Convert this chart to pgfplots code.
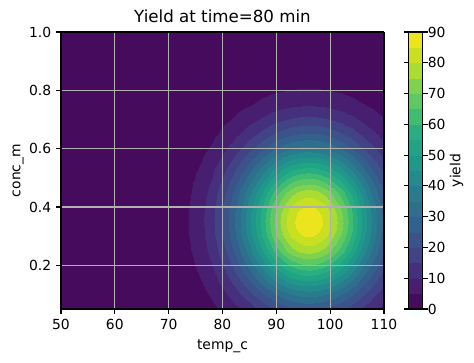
\documentclass[border=0pt]{standalone}
\usepackage{fontspec}
\setmainfont{DejaVu Sans}
\usepackage{pgfplots}
\pgfplotsset{compat=1.18}
\definecolor{gridc}{HTML}{B0B0B0}
\begin{document}
\begin{tikzpicture}
\begin{axis}[
  at={(0,0)}, anchor=south west,
  scale only axis,
  width=232.56pt, height=199.44pt,
  view={0}{90},
  xmin=50, xmax=110, ymin=0.05, ymax=1.0,
  xtick={50,60,...,110},
  ytick={0.2,0.4,0.6,0.8,1.0},
  yticklabel style={/pgf/number format/.cd, fixed, fixed zerofill, precision=1},
  /pgf/number format/assume math mode=true,
  tick label style={font=\fontsize{10}{12}\selectfont},
  label style={font=\fontsize{10}{12}\selectfont},
  title style={font=\fontsize{12}{14}\selectfont, yshift=-3pt},
  title={Yield at time=80 min},
  xlabel={temp\_c},
  xlabel style={yshift=-1pt},
  ylabel={conc\_m},
  ylabel style={yshift=-3pt},
  grid=major,
  grid style={color=gridc, line width=0.8pt},
  axis on top,
  axis line style={line width=0.8pt},
  tick style={line width=0.8pt, black},
  major tick length=3.5pt,
  tick align=outside,
  xtick pos=left, ytick pos=left,
  colormap={mplv}{
    rgb255(0pt)=(70,11,93);
    rgb255(1pt)=(72,30,112);
    rgb255(2pt)=(70,48,125);
    rgb255(3pt)=(66,66,134);
    rgb255(4pt)=(59,82,139);
    rgb255(5pt)=(52,96,141);
    rgb255(6pt)=(46,111,142);
    rgb255(7pt)=(40,124,142);
    rgb255(8pt)=(35,138,141);
    rgb255(9pt)=(31,151,138);
    rgb255(10pt)=(33,164,134);
    rgb255(11pt)=(40,174,128);
    rgb255(12pt)=(65,189,114);
    rgb255(13pt)=(94,201,98);
    rgb255(14pt)=(127,210,78);
    rgb255(15pt)=(170,220,50);
    rgb255(16pt)=(200,224,33);
    rgb255(17pt)=(236,229,30);
    rgb255(18pt)=(236,229,30)
  },
  colormap access=piecewise constant,
  point meta min=0, point meta max=90,
  colorbar,
  colorbar style={
    at={(parent axis.north east)}, anchor=north west, xshift=9.4pt,
    scale only axis,
    width=10.08pt, height=199.44pt,
    ytick={0,10,...,90},
    /pgf/number format/assume math mode=true,
    ylabel={yield},
    ylabel style={at={(axis description cs:3.40,0.5)}, anchor=center},
    tick label style={font=\fontsize{10}{12}\selectfont},
    yticklabel style={xshift=-3.5pt},
    label style={font=\fontsize{10}{12}\selectfont},
    axis line style={line width=0.8pt},
    tick style={line width=0.8pt, black},
    major tick length=3.5pt,
    tick align=outside,
  },
]
\addplot3[surf, shader=interp, mesh/cols=28, mesh/rows=20] coordinates {
(50,0.05,0) (60,0.05,0.01) (66,0.05,0.14) (70,0.05,0.51) (72,0.05,0.91) (74,0.05,1.55) (76,0.05,2.52) (78,0.05,3.91) (80,0.05,5.79) (82,0.05,8.19) (84,0.05,11.07) (86,0.05,14.27) (88,0.05,17.57) (90,0.05,20.66) (92,0.05,23.19) (93,0.05,24.15) (94,0.05,24.86) (95,0.05,25.29) (96,0.05,25.44) (97,0.05,25.29) (98,0.05,24.86) (99,0.05,24.15) (100,0.05,23.19) (102,0.05,20.66) (104,0.05,17.57) (106,0.05,14.27) (108,0.05,11.07) (110,0.05,8.19)
(50,0.10,0) (60,0.10,0.02) (66,0.10,0.20) (70,0.10,0.75) (72,0.10,1.33) (74,0.10,2.27) (76,0.10,3.69) (78,0.10,5.72) (80,0.10,8.48) (82,0.10,11.99) (84,0.10,16.20) (86,0.10,20.89) (88,0.10,25.72) (90,0.10,30.24) (92,0.10,33.95) (93,0.10,35.35) (94,0.10,36.39) (95,0.10,37.03) (96,0.10,37.24) (97,0.10,37.03) (98,0.10,36.39) (99,0.10,35.35) (100,0.10,33.95) (102,0.10,30.24) (104,0.10,25.72) (106,0.10,20.89) (108,0.10,16.20) (110,0.10,11.99)
(50,0.15,0) (60,0.15,0.03) (66,0.15,0.28) (70,0.15,1.02) (72,0.15,1.82) (74,0.15,3.10) (76,0.15,5.04) (78,0.15,7.82) (80,0.15,11.58) (82,0.15,16.38) (84,0.15,22.12) (86,0.15,28.53) (88,0.15,35.13) (90,0.15,41.30) (92,0.15,46.37) (93,0.15,48.28) (94,0.15,49.70) (95,0.15,50.57) (96,0.15,50.86) (97,0.15,50.57) (98,0.15,49.70) (99,0.15,48.28) (100,0.15,46.37) (102,0.15,41.30) (104,0.15,35.13) (106,0.15,28.53) (108,0.15,22.12) (110,0.15,16.38)
(50,0.20,0) (60,0.20,0.04) (66,0.20,0.36) (70,0.20,1.30) (72,0.20,2.32) (74,0.20,3.95) (76,0.20,6.42) (78,0.20,9.96) (80,0.20,14.75) (82,0.20,20.87) (84,0.20,28.19) (86,0.20,36.36) (88,0.20,44.76) (90,0.20,52.63) (92,0.20,59.09) (93,0.20,61.52) (94,0.20,63.33) (95,0.20,64.44) (96,0.20,64.81) (97,0.20,64.44) (98,0.20,63.33) (99,0.20,61.52) (100,0.20,59.09) (102,0.20,52.63) (104,0.20,44.76) (106,0.20,36.36) (108,0.20,28.19) (110,0.20,20.87)
(50,0.25,0) (60,0.25,0.04) (66,0.25,0.42) (70,0.25,1.55) (72,0.25,2.76) (74,0.25,4.70) (76,0.25,7.63) (78,0.25,11.84) (80,0.25,17.54) (82,0.25,24.81) (84,0.25,33.52) (86,0.25,43.23) (88,0.25,53.23) (90,0.25,62.58) (92,0.25,70.26) (93,0.25,73.15) (94,0.25,75.30) (95,0.25,76.62) (96,0.25,77.06) (97,0.25,76.62) (98,0.25,75.30) (99,0.25,73.15) (100,0.25,70.26) (102,0.25,62.58) (104,0.25,53.23) (106,0.25,43.23) (108,0.25,33.52) (110,0.25,24.81)
(50,0.30,0) (60,0.30,0.05) (66,0.30,0.47) (70,0.30,1.72) (72,0.30,3.06) (74,0.30,5.21) (76,0.30,8.47) (78,0.30,13.14) (80,0.30,19.46) (82,0.30,27.53) (84,0.30,37.19) (86,0.30,47.96) (88,0.30,59.05) (90,0.30,69.43) (92,0.30,77.94) (93,0.30,81.16) (94,0.30,83.53) (95,0.30,85.00) (96,0.30,85.49) (97,0.30,85.00) (98,0.30,83.53) (99,0.30,81.16) (100,0.30,77.94) (102,0.30,69.43) (104,0.30,59.05) (106,0.30,47.96) (108,0.30,37.19) (110,0.30,27.53)
(50,0.325,0) (60,0.325,0.05) (66,0.325,0.48) (70,0.325,1.76) (72,0.325,3.14) (74,0.325,5.35) (76,0.325,8.69) (78,0.325,13.49) (80,0.325,19.97) (82,0.325,28.25) (84,0.325,38.17) (86,0.325,49.22) (88,0.325,60.60) (90,0.325,71.25) (92,0.325,79.99) (93,0.325,83.29) (94,0.325,85.73) (95,0.325,87.23) (96,0.325,87.74) (97,0.325,87.23) (98,0.325,85.73) (99,0.325,83.29) (100,0.325,79.99) (102,0.325,71.25) (104,0.325,60.60) (106,0.325,49.22) (108,0.325,38.17) (110,0.325,28.25)
(50,0.35,0) (60,0.35,0.05) (66,0.35,0.49) (70,0.35,1.78) (72,0.35,3.17) (74,0.35,5.39) (76,0.35,8.77) (78,0.35,13.60) (80,0.35,20.14) (82,0.35,28.50) (84,0.35,38.50) (86,0.35,49.65) (88,0.35,61.13) (90,0.35,71.87) (92,0.35,80.69) (93,0.35,84.01) (94,0.35,86.47) (95,0.35,87.99) (96,0.35,88.50) (97,0.35,87.99) (98,0.35,86.47) (99,0.35,84.01) (100,0.35,80.69) (102,0.35,71.87) (104,0.35,61.13) (106,0.35,49.65) (108,0.35,38.50) (110,0.35,28.50)
(50,0.375,0) (60,0.375,0.05) (66,0.375,0.48) (70,0.375,1.76) (72,0.375,3.14) (74,0.375,5.35) (76,0.375,8.69) (78,0.375,13.49) (80,0.375,19.97) (82,0.375,28.25) (84,0.375,38.17) (86,0.375,49.22) (88,0.375,60.60) (90,0.375,71.25) (92,0.375,79.99) (93,0.375,83.29) (94,0.375,85.73) (95,0.375,87.23) (96,0.375,87.74) (97,0.375,87.23) (98,0.375,85.73) (99,0.375,83.29) (100,0.375,79.99) (102,0.375,71.25) (104,0.375,60.60) (106,0.375,49.22) (108,0.375,38.17) (110,0.375,28.25)
(50,0.40,0) (60,0.40,0.05) (66,0.40,0.47) (70,0.40,1.72) (72,0.40,3.06) (74,0.40,5.21) (76,0.40,8.47) (78,0.40,13.14) (80,0.40,19.46) (82,0.40,27.53) (84,0.40,37.19) (86,0.40,47.96) (88,0.40,59.05) (90,0.40,69.43) (92,0.40,77.94) (93,0.40,81.16) (94,0.40,83.53) (95,0.40,85.00) (96,0.40,85.49) (97,0.40,85.00) (98,0.40,83.53) (99,0.40,81.16) (100,0.40,77.94) (102,0.40,69.43) (104,0.40,59.05) (106,0.40,47.96) (108,0.40,37.19) (110,0.40,27.53)
(50,0.45,0) (60,0.45,0.04) (66,0.45,0.42) (70,0.45,1.55) (72,0.45,2.76) (74,0.45,4.70) (76,0.45,7.63) (78,0.45,11.84) (80,0.45,17.54) (82,0.45,24.81) (84,0.45,33.52) (86,0.45,43.23) (88,0.45,53.23) (90,0.45,62.58) (92,0.45,70.26) (93,0.45,73.15) (94,0.45,75.30) (95,0.45,76.62) (96,0.45,77.06) (97,0.45,76.62) (98,0.45,75.30) (99,0.45,73.15) (100,0.45,70.26) (102,0.45,62.58) (104,0.45,53.23) (106,0.45,43.23) (108,0.45,33.52) (110,0.45,24.81)
(50,0.50,0) (60,0.50,0.04) (66,0.50,0.36) (70,0.50,1.30) (72,0.50,2.32) (74,0.50,3.95) (76,0.50,6.42) (78,0.50,9.96) (80,0.50,14.75) (82,0.50,20.87) (84,0.50,28.19) (86,0.50,36.36) (88,0.50,44.76) (90,0.50,52.63) (92,0.50,59.09) (93,0.50,61.52) (94,0.50,63.33) (95,0.50,64.44) (96,0.50,64.81) (97,0.50,64.44) (98,0.50,63.33) (99,0.50,61.52) (100,0.50,59.09) (102,0.50,52.63) (104,0.50,44.76) (106,0.50,36.36) (108,0.50,28.19) (110,0.50,20.87)
(50,0.55,0) (60,0.55,0.03) (66,0.55,0.28) (70,0.55,1.02) (72,0.55,1.82) (74,0.55,3.10) (76,0.55,5.04) (78,0.55,7.82) (80,0.55,11.58) (82,0.55,16.38) (84,0.55,22.12) (86,0.55,28.53) (88,0.55,35.13) (90,0.55,41.30) (92,0.55,46.37) (93,0.55,48.28) (94,0.55,49.70) (95,0.55,50.57) (96,0.55,50.86) (97,0.55,50.57) (98,0.55,49.70) (99,0.55,48.28) (100,0.55,46.37) (102,0.55,41.30) (104,0.55,35.13) (106,0.55,28.53) (108,0.55,22.12) (110,0.55,16.38)
(50,0.60,0) (60,0.60,0.02) (66,0.60,0.20) (70,0.60,0.75) (72,0.60,1.33) (74,0.60,2.27) (76,0.60,3.69) (78,0.60,5.72) (80,0.60,8.48) (82,0.60,11.99) (84,0.60,16.20) (86,0.60,20.89) (88,0.60,25.72) (90,0.60,30.24) (92,0.60,33.95) (93,0.60,35.35) (94,0.60,36.39) (95,0.60,37.03) (96,0.60,37.24) (97,0.60,37.03) (98,0.60,36.39) (99,0.60,35.35) (100,0.60,33.95) (102,0.60,30.24) (104,0.60,25.72) (106,0.60,20.89) (108,0.60,16.20) (110,0.60,11.99)
(50,0.65,0) (60,0.65,0.01) (66,0.65,0.14) (70,0.65,0.51) (72,0.65,0.91) (74,0.65,1.55) (76,0.65,2.52) (78,0.65,3.91) (80,0.65,5.79) (82,0.65,8.19) (84,0.65,11.07) (86,0.65,14.27) (88,0.65,17.57) (90,0.65,20.66) (92,0.65,23.19) (93,0.65,24.15) (94,0.65,24.86) (95,0.65,25.29) (96,0.65,25.44) (97,0.65,25.29) (98,0.65,24.86) (99,0.65,24.15) (100,0.65,23.19) (102,0.65,20.66) (104,0.65,17.57) (106,0.65,14.27) (108,0.65,11.07) (110,0.65,8.19)
(50,0.70,0) (60,0.70,0.01) (66,0.70,0.09) (70,0.70,0.33) (72,0.70,0.58) (74,0.70,0.99) (76,0.70,1.61) (78,0.70,2.49) (80,0.70,3.69) (82,0.70,5.22) (84,0.70,7.06) (86,0.70,9.10) (88,0.70,11.20) (90,0.70,13.17) (92,0.70,14.79) (93,0.70,15.40) (94,0.70,15.85) (95,0.70,16.13) (96,0.70,16.22) (97,0.70,16.13) (98,0.70,15.85) (99,0.70,15.40) (100,0.70,14.79) (102,0.70,13.17) (104,0.70,11.20) (106,0.70,9.10) (108,0.70,7.06) (110,0.70,5.22)
(50,0.75,0) (60,0.75,0.01) (66,0.75,0.05) (70,0.75,0.19) (72,0.75,0.35) (74,0.75,0.59) (76,0.75,0.96) (78,0.75,1.48) (80,0.75,2.20) (82,0.75,3.11) (84,0.75,4.20) (86,0.75,5.41) (88,0.75,6.66) (90,0.75,7.83) (92,0.75,8.80) (93,0.75,9.16) (94,0.75,9.43) (95,0.75,9.59) (96,0.75,9.65) (97,0.75,9.59) (98,0.75,9.43) (99,0.75,9.16) (100,0.75,8.80) (102,0.75,7.83) (104,0.75,6.66) (106,0.75,5.41) (108,0.75,4.20) (110,0.75,3.11)
(50,0.80,0) (60,0.80,0) (66,0.80,0.03) (70,0.80,0.11) (72,0.80,0.19) (74,0.80,0.33) (76,0.80,0.53) (78,0.80,0.82) (80,0.80,1.22) (82,0.80,1.72) (84,0.80,2.33) (86,0.80,3.00) (88,0.80,3.70) (90,0.80,4.35) (92,0.80,4.88) (93,0.80,5.08) (94,0.80,5.23) (95,0.80,5.33) (96,0.80,5.36) (97,0.80,5.33) (98,0.80,5.23) (99,0.80,5.08) (100,0.80,4.88) (102,0.80,4.35) (104,0.80,3.70) (106,0.80,3.00) (108,0.80,2.33) (110,0.80,1.72)
(50,0.85,0) (60,0.85,0) (66,0.85,0.02) (70,0.85,0.06) (72,0.85,0.10) (74,0.85,0.17) (76,0.85,0.27) (78,0.85,0.43) (80,0.85,0.63) (82,0.85,0.89) (84,0.85,1.21) (86,0.85,1.56) (88,0.85,1.92) (90,0.85,2.25) (92,0.85,2.53) (93,0.85,2.63) (94,0.85,2.71) (95,0.85,2.76) (96,0.85,2.77) (97,0.85,2.76) (98,0.85,2.71) (99,0.85,2.63) (100,0.85,2.53) (102,0.85,2.25) (104,0.85,1.92) (106,0.85,1.56) (108,0.85,1.21) (110,0.85,0.89)
(50,1.00,0) (60,1.00,0) (66,1.00,0) (70,1.00,0.01) (72,1.00,0.01) (74,1.00,0.02) (76,1.00,0.03) (78,1.00,0.04) (80,1.00,0.06) (82,1.00,0.08) (84,1.00,0.11) (86,1.00,0.14) (88,1.00,0.18) (90,1.00,0.21) (92,1.00,0.23) (93,1.00,0.24) (94,1.00,0.25) (95,1.00,0.25) (96,1.00,0.25) (97,1.00,0.25) (98,1.00,0.25) (99,1.00,0.24) (100,1.00,0.23) (102,1.00,0.21) (104,1.00,0.18) (106,1.00,0.14) (108,1.00,0.11) (110,1.00,0.08)
};
\end{axis}
\pgfresetboundingbox
\path (-43.92pt,-38.16pt) rectangle (297.36pt,222.48pt);
\end{tikzpicture}
\end{document}
